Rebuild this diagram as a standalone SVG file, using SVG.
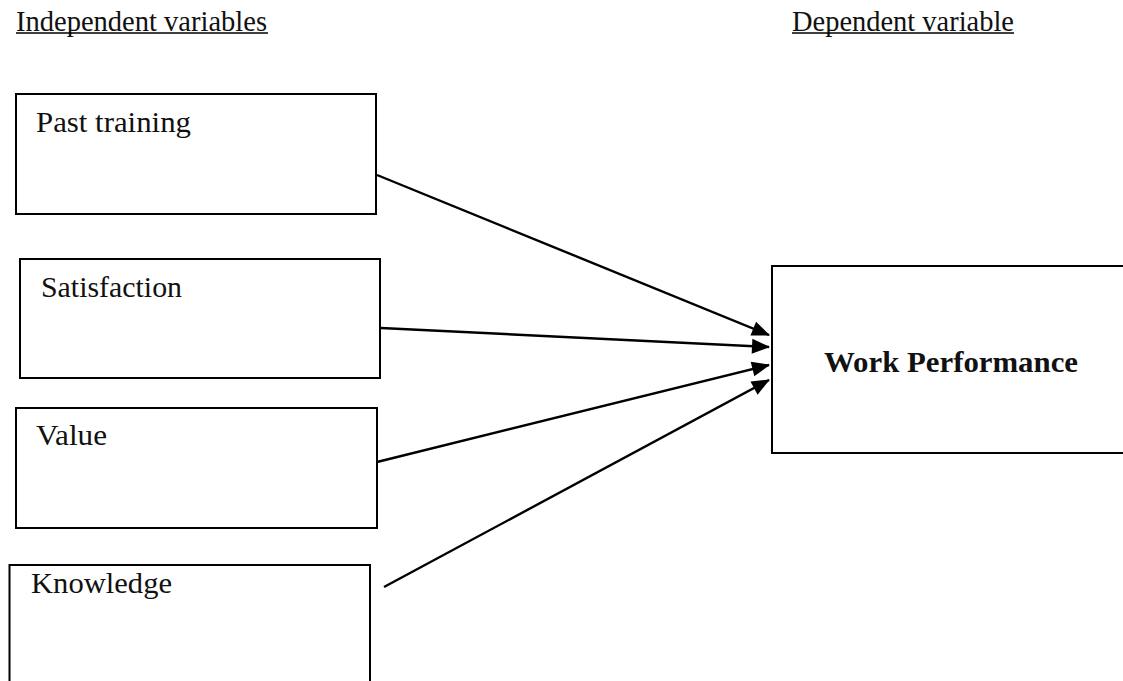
<svg xmlns="http://www.w3.org/2000/svg" width="1123" height="681" viewBox="0 0 1123 681">
<style>
.box{fill:#fff;stroke:#000;stroke-width:2}
.lbl{font-family:"Liberation Serif","Times New Roman",serif;font-size:30px;fill:#111}
.hdr{font-family:"Liberation Serif","Times New Roman",serif;font-size:28.5px;fill:#111}
.ul{stroke:#000;stroke-width:1.5}
.con{stroke:#000;stroke-width:2.4;fill:none;marker-end:url(#ah)}
</style>
<defs>
<marker id="ah" markerUnits="userSpaceOnUse" viewBox="0 0 18 15" markerWidth="18" markerHeight="15" refX="17" refY="7.5" orient="auto" overflow="visible">
<path d="M0,0 L18,7.5 L0,15 z" fill="#000"/>
</marker>
</defs>
<rect width="1123" height="681" fill="#fff"/>
<g id="headers">
<text class="hdr" x="16" y="31" textLength="251" lengthAdjust="spacingAndGlyphs">Independent variables</text>
<line class="ul" x1="16" y1="33" x2="268" y2="33"/>
<text class="hdr" x="792" y="31" textLength="222" lengthAdjust="spacingAndGlyphs">Dependent variable</text>
<line class="ul" x1="792" y1="33" x2="1014" y2="33"/>
</g>
<g id="past-training">
<rect class="box" x="16" y="94" width="360" height="120"/>
<text class="lbl" x="36" y="132" textLength="155" lengthAdjust="spacingAndGlyphs">Past training</text>
</g>
<g id="satisfaction">
<rect class="box" x="20" y="259" width="360" height="119"/>
<text class="lbl" x="41" y="297" textLength="141" lengthAdjust="spacingAndGlyphs">Satisfaction</text>
</g>
<g id="value">
<rect class="box" x="16" y="408" width="361" height="120"/>
<text class="lbl" x="36" y="445" textLength="71" lengthAdjust="spacingAndGlyphs">Value</text>
</g>
<g id="knowledge">
<rect class="box" x="9.5" y="565" width="360.5" height="150"/>
<text class="lbl" x="31" y="593" textLength="141" lengthAdjust="spacingAndGlyphs">Knowledge</text>
</g>
<g id="work-performance">
<rect class="box" x="772" y="266" width="400" height="187"/>
<text class="lbl" x="824" y="372" font-weight="bold" textLength="254" lengthAdjust="spacingAndGlyphs">Work Performance</text>
</g>
<g id="connectors">
<line class="con" x1="377" y1="175" x2="769" y2="335"/>
<line class="con" x1="381" y1="328" x2="769" y2="347"/>
<line class="con" x1="377" y1="462" x2="769" y2="365"/>
<line class="con" x1="384" y1="587" x2="769" y2="380"/>
</g>
</svg>
